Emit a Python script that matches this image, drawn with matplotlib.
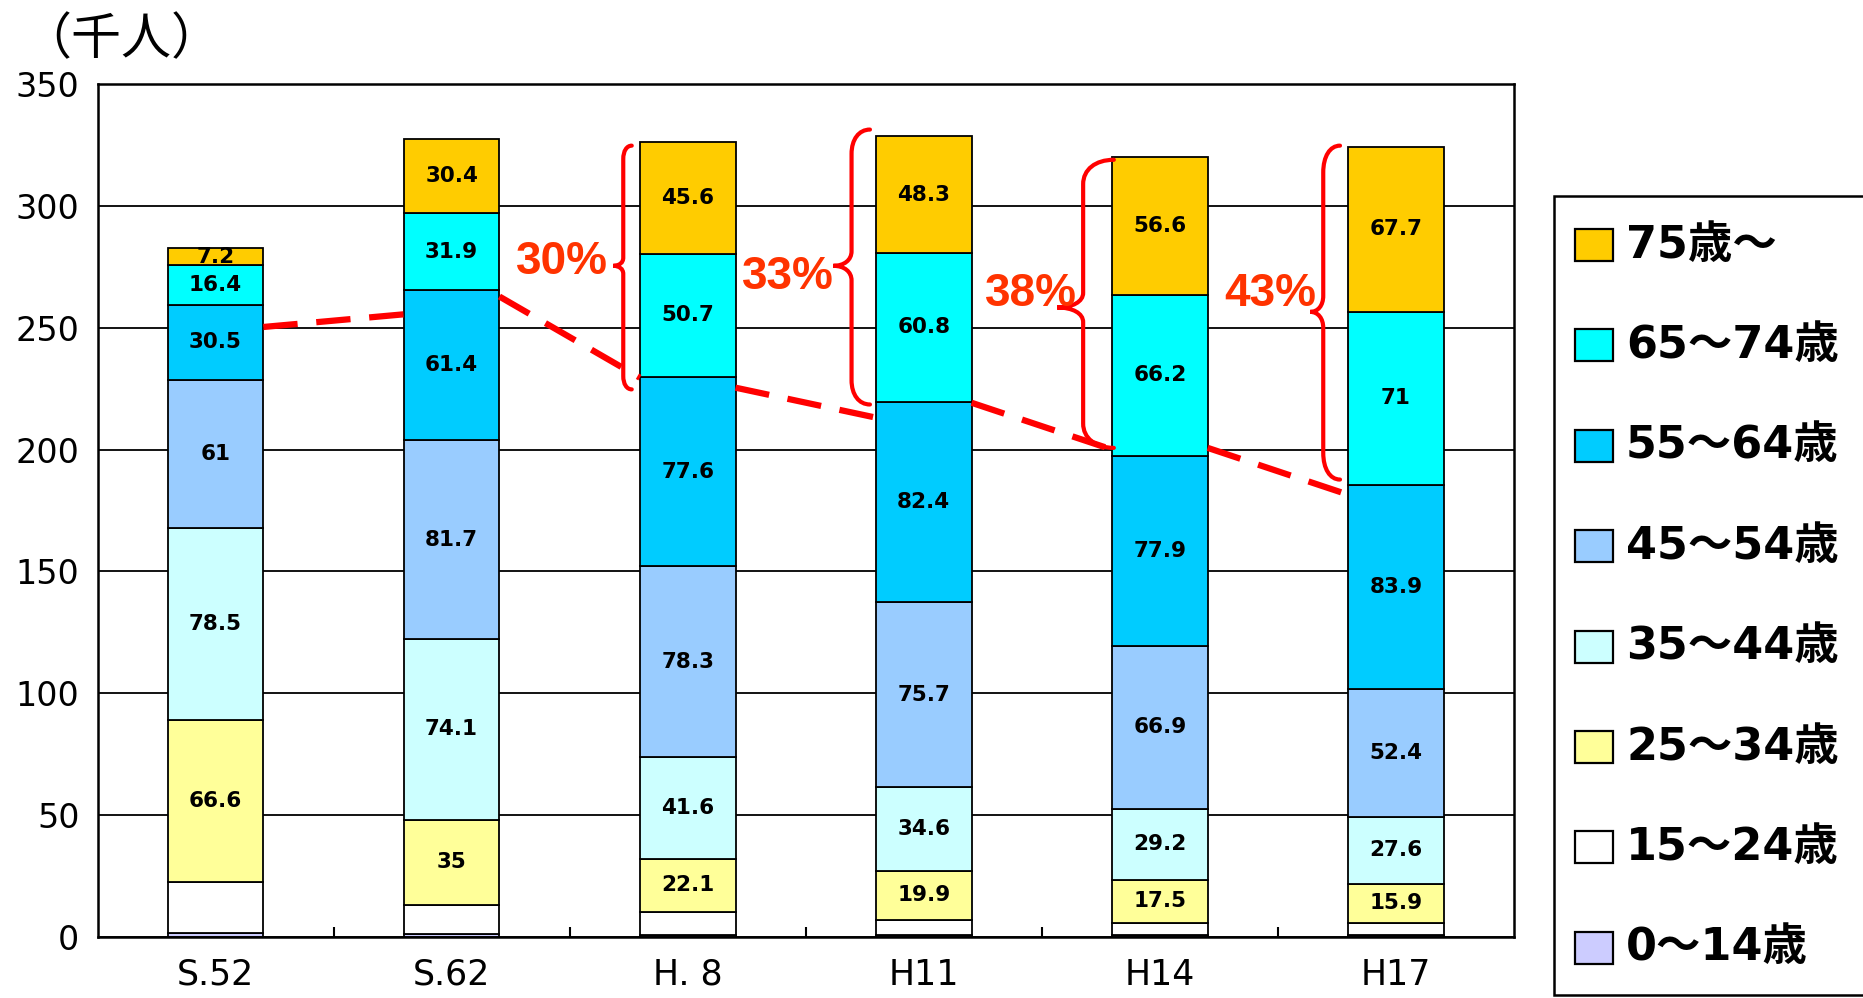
import matplotlib.pyplot as plt
from matplotlib.patches import Rectangle, PathPatch
from matplotlib.path import Path
import numpy as np

plt.rcParams['font.family'] = ['DejaVu Sans']

W, H = 1863, 998

years = ['S.52', 'S.62', 'H. 8', 'H11', 'H14', 'H17']

# thousand persons, by age band (bottom to top of each bar)
age_0_14 = [1.8, 1.2, 1.0, 0.9, 0.9, 0.9]
age_15_24 = [20.8, 11.9, 9.1, 6.2, 5.0, 4.9]
age_25_34 = [66.6, 35, 22.1, 19.9, 17.5, 15.9]
age_35_44 = [78.5, 74.1, 41.6, 34.6, 29.2, 27.6]
age_45_54 = [61, 81.7, 78.3, 75.7, 66.9, 52.4]
age_55_64 = [30.5, 61.4, 77.6, 82.4, 77.9, 83.9]
age_65_74 = [16.4, 31.9, 50.7, 60.8, 66.2, 71]
age_75_up = [7.2, 30.4, 45.6, 48.3, 56.6, 67.7]

series = [age_0_14, age_15_24, age_25_34, age_35_44,
          age_45_54, age_55_64, age_65_74, age_75_up]
labels = ['0～14歳', '15～24歳', '25～34歳', '35～44歳',
          '45～54歳', '55～64歳', '65～74歳', '75歳～']
colors = ['#CCCCFF', '#FFFFFF', '#FFFF99', '#CCFFFF',
          '#99CCFF', '#00CCFF', '#00FFFF', '#FFCC00']
show_value = [False, False, True, True, True, True, True, True]

# dashed trend line, value at the left and right end of each gap
trend_start = [250.3, 262.8, 225.4, 219.2, 200.7]
trend_end = [255.5, 229.5, 213.1, 200.0, 181.5]

# share of the 55+ bands, with the braces marking them
share_text = ['30%', '33%', '38%', '43%']
share_pos = [(1.466, 277.0), (2.426, 270.7), (3.453, 264.0), (4.466, 264.0)]
# x of the brace spine, top, cusp, bottom, tip offset, cusp offset, curl
braces = [(1.727, 324.7, 275.4, 224.7, 0.036, 0.042, 5.5),
          (2.694, 331.3, 275.4, 218.5, 0.078, 0.077, 10.0),
          (3.675, 318.9, 258.3, 200.7, 0.130, 0.110, 10.0),
          (4.692, 324.7, 256.5, 187.7, 0.071, 0.055, 11.0)]

fig = plt.figure(figsize=(W / 100, H / 100), dpi=100)
ax = fig.add_axes([97.5 / W, 1 - 937 / H, (1514 - 97.5) / W, (937 - 84) / H])

x = np.arange(len(years))
bw = 0.405
bottom = np.zeros(len(years))
for vals, col, show in zip(series, colors, show_value):
    vals = np.array(vals, dtype=float)
    ax.bar(x, vals, bw, bottom=bottom, color=col, edgecolor='black',
           linewidth=1.3, zorder=3)
    if show:
        for xi, b, v in zip(x, bottom, vals):
            ax.text(xi, b + v / 2, f'{v:g}', ha='center', va='center',
                    fontsize=15.5, fontweight='bold', zorder=5)
    bottom += vals

# dashed line across the gaps between bars
for i, (y0, y1) in enumerate(zip(trend_start, trend_end)):
    ax.plot([i + bw / 2, i + 1 - bw / 2], [y0, y1], color='#FF0000',
            lw=4.5, ls=(0, (5.5, 3.0)), solid_capstyle='butt', zorder=4)


def brace_path(xv, top, mid, bot, w, c, r):
    rm = r * 0.6
    verts = [(xv + w, top),
             (xv + w * 0.4, top), (xv, top - r * 0.4), (xv, top - r),
             (xv, mid + rm),
             (xv, mid + rm * 0.4), (xv - c * 0.4, mid), (xv - c, mid),
             (xv - c * 0.4, mid), (xv, mid - rm * 0.4), (xv, mid - rm),
             (xv, bot + r),
             (xv, bot + r * 0.4), (xv + w * 0.4, bot), (xv + w, bot)]
    codes = ([Path.MOVETO] + [Path.CURVE4] * 3 + [Path.LINETO]
             + [Path.CURVE4] * 6 + [Path.LINETO] + [Path.CURVE4] * 3)
    return Path(verts, codes)


for b in braces:
    ax.add_patch(PathPatch(brace_path(*b), fill=False, edgecolor='#FF0000',
                           lw=3.0, zorder=4, capstyle='round'))

for txt, (px, py) in zip(share_text, share_pos):
    ax.text(px, py, txt, ha='center', va='center', fontsize=33,
            fontweight='bold', color='#FF3300',
            family=['Liberation Sans', 'DejaVu Sans'], zorder=6)

ax.set_xlim(-0.5, 5.5)
ax.set_ylim(0, 350)
ax.set_yticks(np.arange(0, 351, 50))
ax.set_xticks(x)
ax.set_xticklabels(years)
ax.set_xticks(np.arange(0.5, 5), minor=True)
ax.tick_params(axis='x', which='major', length=0, pad=15, labelsize=25)
ax.tick_params(axis='x', which='minor', direction='in', length=7,
               width=1.5, color='black')
ax.tick_params(axis='y', length=0, pad=13, labelsize=24)
ax.yaxis.grid(True, color='black', lw=1.3, zorder=0)
ax.set_axisbelow(True)
for sp in ax.spines.values():
    sp.set_linewidth(1.8)
    sp.set_zorder(6)

fig.text(121 / W, 1 - 40 / H, '（千人）', ha='center', va='center',
         fontsize=36, family=['Noto Sans CJK JP', 'DejaVu Sans'])

# legend box, running off the right edge
fig.add_artist(Rectangle((1554 / W, 1 - 995 / H), (1900 - 1554) / W,
                         (995 - 196) / H, transform=fig.transFigure,
                         facecolor='white', edgecolor='black', lw=1.8,
                         clip_on=False))
for i, k in enumerate(range(len(labels) - 1, -1, -1)):
    yc = 245 + i * 100.4
    fig.add_artist(Rectangle((1575 / W, 1 - (yc + 16) / H), 38 / W, 32 / H,
                             transform=fig.transFigure, facecolor=colors[k],
                             edgecolor='black', lw=1.6))
    fig.text(1626 / W, 1 - yc / H, labels[k], ha='left', va='center',
             fontsize=32, fontweight='bold',
             family=['DejaVu Sans', 'Noto Sans CJK JP'])

fig.savefig('out.png', dpi=100)
